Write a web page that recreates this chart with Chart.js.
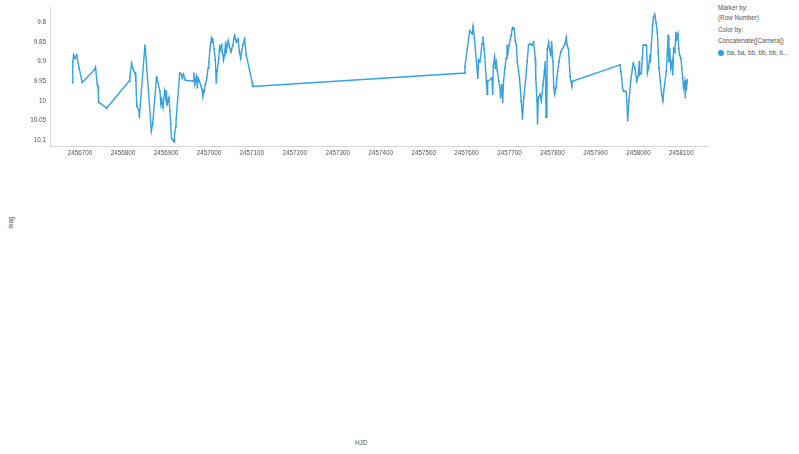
<!DOCTYPE html>
<html>
<head>
<meta charset="utf-8">
<script src="https://cdn.jsdelivr.net/npm/chart.js@4/dist/chart.umd.min.js"></script>
<style>
    html, body { margin: 0; padding: 0; background: #fff; }
    body { width: 799px; height: 454px; position: relative; overflow: hidden; font-family: "Liberation Sans", Arial, sans-serif; }
    #plotBox { position: absolute; left: 0; top: 0; width: 712px; height: 160px; }
    .lbl { position: absolute; font-size: 6.3px; color: #555; white-space: nowrap; }
    #yTitle { left: 4px; top: 219px; transform: rotate(-90deg); transform-origin: center; }
    #xTitle { left: 355px; top: 439px; }
    #legend .lbl { left: 718px; }
    .dot { display: inline-block; width: 6px; height: 6px; border-radius: 50%; background: #2d9fe0; vertical-align: -1px; margin-right: 3px; }
</style>
</head>
<body>
<div id="plotBox"><canvas id="lightCurve"></canvas></div>
<div class="lbl" id="yTitle">mag</div>
<div class="lbl" id="xTitle">HJD</div>
<div id="legend">
    <div class="lbl" style="top:4px">Marker by:</div>
    <div class="lbl" style="top:14px">(Row Number)</div>
    <div class="lbl" style="top:26px">Color by:</div>
    <div class="lbl" style="top:37px">Concatenate([Camera])</div>
    <div class="lbl" style="top:49px"><span class="dot"></span>ba, ba, bb, bb, bb, b...</div>
</div>
<script>
const hjd = [
    2456683, 2456683, 2456685, 2456688, 2456692, 2456698, 2456705, 2456733, 2456736, 2456740,
    2456742, 2456743, 2456762, 2456814, 2456816, 2456820, 2456824, 2456828, 2456830, 2456832,
    2456837, 2456838, 2456851, 2456852, 2456866, 2456869, 2456878, 2456879, 2456886, 2456888,
    2456890, 2456893, 2456897, 2456900, 2456901, 2456903, 2456907, 2456909, 2456911, 2456913,
    2456917, 2456919, 2456920, 2456923, 2456924, 2456932, 2456936, 2456938, 2456941, 2456945,
    2456950, 2456963, 2456965, 2456967, 2456971, 2456973, 2456975, 2456978, 2456982, 2456984,
    2456986, 2456989, 2456992, 2456995, 2456998, 2457000, 2457002, 2457004, 2457006, 2457008,
    2457009, 2457012, 2457015, 2457017, 2457019, 2457023, 2457025, 2457026, 2457030, 2457031,
    2457034, 2457036, 2457039, 2457040, 2457043, 2457045, 2457048, 2457051, 2457053, 2457056,
    2457058, 2457060, 2457064, 2457066, 2457068, 2457071, 2457074, 2457076, 2457079, 2457083,
    2457087, 2457101, 2457102,
    2457596, 2457596, 2457607, 2457613, 2457615, 2457618, 2457623, 2457626, 2457628, 2457631,
    2457636, 2457638, 2457641, 2457646, 2457648, 2457649, 2457659, 2457661, 2457662, 2457665,
    2457667, 2457669, 2457671, 2457675, 2457677, 2457679, 2457682, 2457684, 2457686, 2457689,
    2457692, 2457694, 2457696, 2457699, 2457702, 2457704, 2457706, 2457708, 2457711, 2457713,
    2457716, 2457718, 2457721, 2457723, 2457725, 2457727, 2457729, 2457730, 2457733, 2457737,
    2457741, 2457744, 2457748, 2457752, 2457756, 2457760, 2457761, 2457764, 2457765, 2457767,
    2457771, 2457774, 2457778, 2457781, 2457783, 2457785, 2457787, 2457788, 2457791, 2457793,
    2457796, 2457798, 2457801, 2457803, 2457805, 2457808, 2457810, 2457812, 2457815, 2457819,
    2457823, 2457829, 2457832, 2457834, 2457837, 2457841, 2457845, 2457846,
    2457957, 2457959, 2457961, 2457963, 2457965, 2457969, 2457972, 2457975, 2457978, 2457982,
    2457986, 2457988, 2457992, 2457996, 2457999, 2458002, 2458003, 2458007, 2458009, 2458011,
    2458015, 2458019, 2458021, 2458024, 2458027, 2458028, 2458030, 2458033, 2458035, 2458038,
    2458041, 2458044, 2458046, 2458048, 2458051, 2458054, 2458057, 2458059, 2458061, 2458065,
    2458067, 2458069, 2458071, 2458073, 2458075, 2458078, 2458080, 2458082, 2458085, 2458087,
    2458089, 2458092, 2458094, 2458096, 2458099, 2458101, 2458103, 2458105, 2458108, 2458109,
    2458111, 2458112, 2458114,
];
const mag = [
    9.954, 9.900, 9.883, 9.892, 9.883, 9.917, 9.953, 9.921, 9.914, 9.958,
    9.963, 10.003, 10.018, 9.950, 9.938, 9.904, 9.921, 9.929, 9.950, 10.013,
    10.025, 10.043, 9.858, 9.867, 10.077, 10.058, 9.940, 9.942, 9.975, 10.008,
    9.996, 10.017, 9.975, 9.996, 9.975, 10.008, 9.992, 10.025, 10.058, 10.096,
    10.100, 10.104, 10.083, 10.067, 10.042, 9.929, 9.933, 9.942, 9.932, 9.947,
    9.948, 9.950, 9.929, 9.958, 9.938, 9.967, 9.942, 9.950, 9.963, 9.971,
    9.988, 9.975, 9.958, 9.942, 9.917, 9.900, 9.871, 9.854, 9.840, 9.850,
    9.842, 9.867, 9.896, 9.954, 9.925, 9.892, 9.858, 9.871, 9.858, 9.875,
    9.896, 9.883, 9.850, 9.875, 9.858, 9.846, 9.863, 9.875, 9.867, 9.858,
    9.842, 9.833, 9.850, 9.846, 9.842, 9.875, 9.892, 9.875, 9.858, 9.842,
    9.883, 9.954, 9.963,
    9.929, 9.913, 9.821, 9.829, 9.810, 9.838, 9.900, 9.942, 9.896, 9.900,
    9.854, 9.838, 9.867, 9.950, 9.983, 9.950, 9.942, 9.983, 9.913, 9.888,
    9.917, 9.896, 9.921, 9.950, 9.963, 9.992, 9.958, 10.004, 9.950, 9.917,
    9.892, 9.858, 9.879, 9.858, 9.842, 9.833, 9.817, 9.813, 9.817, 9.846,
    9.858, 9.900, 9.925, 9.942, 9.967, 10.000, 10.025, 10.046, 9.992, 9.950,
    9.900, 9.858, 9.854, 9.858, 9.850, 9.892, 9.942, 10.000, 10.058, 9.992,
    9.983, 10.000, 9.958, 9.925, 9.900, 10.042, 9.958, 9.867, 9.850, 9.867,
    9.883, 9.850, 9.900, 9.967, 9.983, 9.967, 9.942, 9.925, 9.900, 9.875,
    9.867, 9.854, 9.838, 9.858, 9.867, 9.938, 9.963, 9.950,
    9.908, 9.925, 9.942, 9.967, 9.975, 9.975, 9.979, 10.050, 10.000, 9.950,
    9.917, 9.904, 9.917, 9.950, 9.938, 9.900, 9.933, 9.929, 9.892, 9.858,
    9.857, 9.858, 9.929, 9.913, 9.883, 9.900, 9.858, 9.808, 9.788, 9.779,
    9.800, 9.825, 9.875, 9.917, 9.950, 9.983, 10.000, 9.975, 9.958, 9.925,
    9.883, 9.833, 9.900, 9.867, 9.917, 9.900, 9.933, 9.867, 9.875, 9.825,
    9.842, 9.829, 9.867, 9.883, 9.892, 9.917, 9.942, 9.967, 9.950, 9.992,
    9.950, 9.971, 9.946,
];
const xTicks = [2456700, 2456800, 2456900, 2457000, 2457100, 2457200, 2457300, 2457400,
    2457500, 2457600, 2457700, 2457800, 2457900, 2458000, 2458100];
const yTicks = [9.8, 9.85, 9.9, 9.95, 10, 10.05, 10.1];
const yTickLabels = ['9.8', '9.85', '9.9', '9.95', '10', '10.05', '10.1'];

const points = hjd.map((x, i) => ({ x, y: mag[i] }));
const tickFont = { family: '"Liberation Sans", Arial, sans-serif', size: 6.3 };

new Chart(document.getElementById('lightCurve'), {
    type: 'scatter',
    data: {
        datasets: [{
            label: 'ba, ba, bb, bb, bb, b...',
            data: points,
            showLine: true,
            borderColor: '#33a3e3',
            borderWidth: 1.4,
            pointRadius: 0.8,
            pointBackgroundColor: '#3488c6',
            pointBorderWidth: 0,
            tension: 0,
        }],
    },
    options: {
        responsive: true,
        maintainAspectRatio: false,
        animation: false,
        layout: { padding: { top: 5, right: 2, left: 0, bottom: 0 } },
        plugins: {
            legend: { display: false },
            tooltip: { enabled: false },
        },
        scales: {
            x: {
                type: 'linear',
                min: 2456630,
                max: 2458162,
                afterBuildTicks: (scale) => { scale.ticks = xTicks.map(v => ({ value: v })); },
                afterFit: (scale) => { scale.height = 14; },
                ticks: {
                    color: '#555',
                    font: tickFont,
                    padding: 3,
                    maxRotation: 0,
                    autoSkip: false,
                    callback: (v) => String(v),
                },
                grid: { display: false, drawTicks: false },
                border: { color: '#d4d4d4', width: 1 },
            },
            y: {
                reverse: true,
                min: 9.7625,
                max: 10.115,
                afterBuildTicks: (scale) => { scale.ticks = yTicks.map(v => ({ value: v })); },
                afterFit: (scale) => { scale.width = 50; },
                ticks: {
                    color: '#555',
                    font: tickFont,
                    padding: 4,
                    autoSkip: false,
                    callback: (v) => yTickLabels[yTicks.indexOf(v)] ?? '',
                },
                grid: { display: false, drawTicks: false },
                border: { color: '#d4d4d4', width: 1 },
            },
        },
    },
});
</script>
</body>
</html>
